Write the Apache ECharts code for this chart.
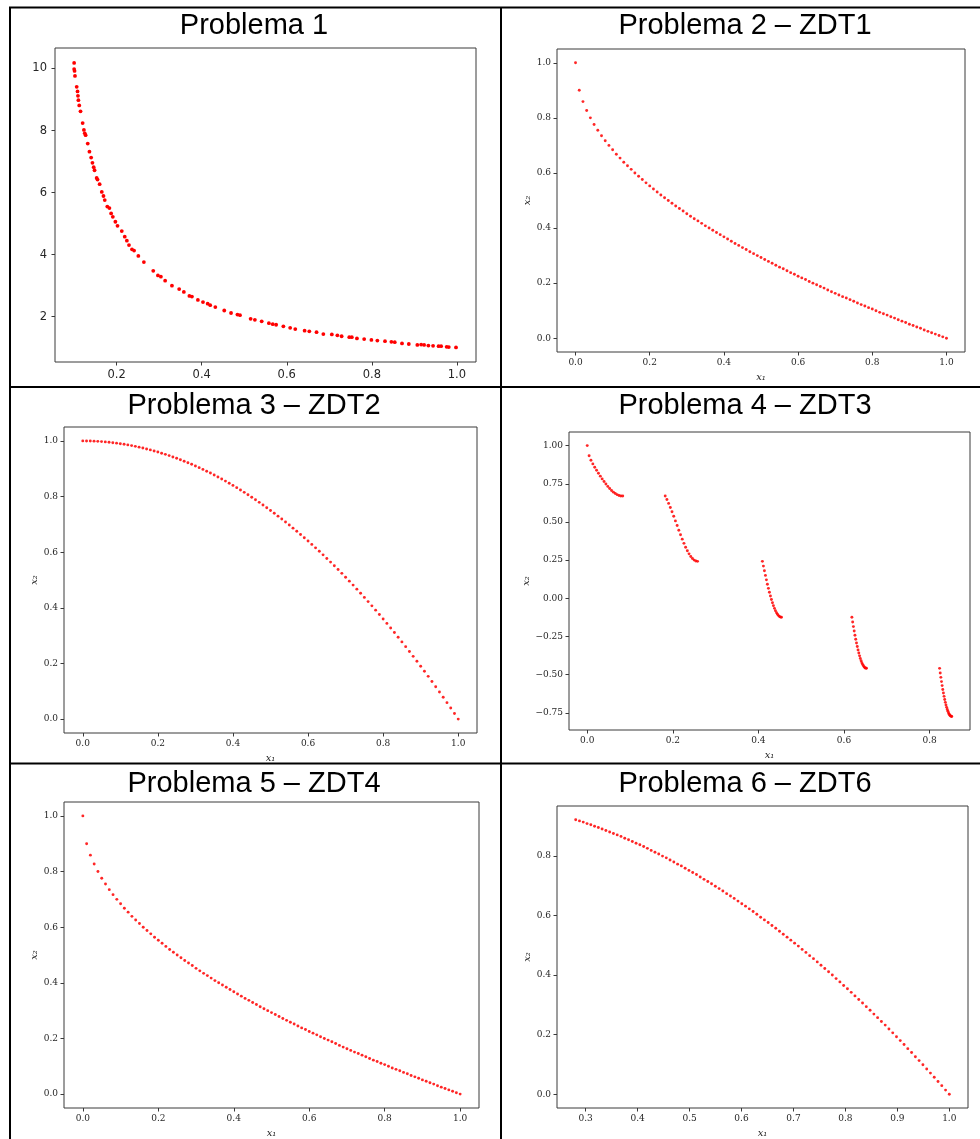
<!DOCTYPE html>
<html>
<head>
<meta charset="utf-8">
<title>Frentes de Pareto</title>
<script src="https://cdn.jsdelivr.net/npm/echarts@6/dist/echarts.min.js"></script>
<style>
  html, body { margin: 0; padding: 0; background: #fff; }
  #chart { width: 980px; height: 1139px; }
</style>
</head>
<body>
<div id="chart"></div>
<script>
// ---------- Panel titles ----------
const panelTitles = [
  'Problema 1', 'Problema 2 – ZDT1',
  'Problema 3 – ZDT2', 'Problema 4 – ZDT3',
  'Problema 5 – ZDT4', 'Problema 6 – ZDT6'
];

// ---------- Problema 1 ----------
const p1X = [0.100,0.100,0.101,0.102,0.106,0.108,0.109,0.110,0.112,0.115,
  0.120,0.123,0.125,0.127,0.132,0.136,0.140,0.143,0.146,0.148,
  0.153,0.155,0.160,0.165,0.169,0.172,0.178,0.183,0.187,0.191,
  0.197,0.202,0.212,0.219,0.224,0.229,0.236,0.241,0.251,0.264,
  0.286,0.297,0.304,0.314,0.330,0.347,0.358,0.371,0.377,0.391,
  0.403,0.414,0.420,0.432,0.453,0.469,0.484,0.490,0.515,0.525,
  0.541,0.558,0.567,0.575,0.592,0.608,0.620,0.642,0.653,0.670,
  0.686,0.706,0.719,0.729,0.747,0.753,0.765,0.782,0.799,0.813,
  0.831,0.846,0.854,0.871,0.887,0.907,0.916,0.923,0.933,0.944,
  0.957,0.963,0.976,0.981,0.998];
const p1Y = [10.18,9.98,9.92,9.76,9.41,9.26,9.12,8.98,8.81,8.62,
  8.24,8.02,7.91,7.85,7.58,7.32,7.13,6.96,6.82,6.72,
  6.47,6.42,6.27,6.02,5.89,5.76,5.55,5.50,5.33,5.22,
  5.06,4.93,4.76,4.58,4.45,4.31,4.17,4.13,3.96,3.76,
  3.48,3.33,3.29,3.16,3.00,2.89,2.80,2.67,2.65,2.54,
  2.47,2.42,2.37,2.31,2.20,2.12,2.07,2.05,1.93,1.90,
  1.85,1.79,1.76,1.74,1.69,1.64,1.60,1.55,1.53,1.50,
  1.44,1.43,1.40,1.37,1.34,1.34,1.30,1.28,1.25,1.23,
  1.21,1.19,1.18,1.14,1.12,1.09,1.10,1.09,1.07,1.06,
  1.05,1.05,1.03,1.02,1.01];

// ---------- ZDT1 / ZDT2 / ZDT4 share the same f1 sampling ----------
const zdtX = [0.00,0.01,0.02,0.03,0.04,0.05,0.06,0.07,0.08,0.09,
  0.10,0.11,0.12,0.13,0.14,0.15,0.16,0.17,0.18,0.19,
  0.20,0.21,0.22,0.23,0.24,0.25,0.26,0.27,0.28,0.29,
  0.30,0.31,0.32,0.33,0.34,0.35,0.36,0.37,0.38,0.39,
  0.40,0.41,0.42,0.43,0.44,0.45,0.46,0.47,0.48,0.49,
  0.50,0.51,0.52,0.53,0.54,0.55,0.56,0.57,0.58,0.59,
  0.60,0.61,0.62,0.63,0.64,0.65,0.66,0.67,0.68,0.69,
  0.70,0.71,0.72,0.73,0.74,0.75,0.76,0.77,0.78,0.79,
  0.80,0.81,0.82,0.83,0.84,0.85,0.86,0.87,0.88,0.89,
  0.90,0.91,0.92,0.93,0.94,0.95,0.96,0.97,0.98,0.99,1.00];

const zdt1Y = [1.000,0.900,0.859,0.827,0.800,0.776,0.755,0.735,0.717,0.700,
  0.684,0.668,0.654,0.639,0.626,0.613,0.600,0.588,0.576,0.564,
  0.553,0.542,0.531,0.520,0.510,0.500,0.490,0.480,0.471,0.462,
  0.452,0.443,0.434,0.426,0.417,0.408,0.400,0.392,0.384,0.376,
  0.368,0.360,0.352,0.344,0.337,0.329,0.322,0.314,0.307,0.300,
  0.293,0.286,0.279,0.272,0.265,0.258,0.252,0.245,0.238,0.232,
  0.225,0.219,0.213,0.206,0.200,0.194,0.188,0.182,0.175,0.169,
  0.163,0.157,0.151,0.146,0.140,0.134,0.128,0.122,0.117,0.111,
  0.106,0.100,0.094,0.089,0.084,0.078,0.073,0.067,0.062,0.057,
  0.051,0.046,0.041,0.036,0.030,0.025,0.020,0.015,0.010,0.005,0.000];

const zdt2Y = [1.0000,0.9999,0.9996,0.9991,0.9984,0.9975,0.9964,0.9951,0.9936,0.9919,
  0.9900,0.9879,0.9856,0.9831,0.9804,0.9775,0.9744,0.9711,0.9676,0.9639,
  0.9600,0.9559,0.9516,0.9471,0.9424,0.9375,0.9324,0.9271,0.9216,0.9159,
  0.9100,0.9039,0.8976,0.8911,0.8844,0.8775,0.8704,0.8631,0.8556,0.8479,
  0.8400,0.8319,0.8236,0.8151,0.8064,0.7975,0.7884,0.7791,0.7696,0.7599,
  0.7500,0.7399,0.7296,0.7191,0.7084,0.6975,0.6864,0.6751,0.6636,0.6519,
  0.6400,0.6279,0.6156,0.6031,0.5904,0.5775,0.5644,0.5511,0.5376,0.5239,
  0.5100,0.4959,0.4816,0.4671,0.4524,0.4375,0.4224,0.4071,0.3916,0.3759,
  0.3600,0.3439,0.3276,0.3111,0.2944,0.2775,0.2604,0.2431,0.2256,0.2079,
  0.1900,0.1719,0.1536,0.1351,0.1164,0.0975,0.0784,0.0591,0.0396,0.0199,0.0000];

// ZDT4 reaches the same front as ZDT1
const zdt4Y = zdt1Y;

// ---------- ZDT3 (five disconnected segments) ----------
const zdt3X = [
  0.0000,0.0044,0.0087,0.0131,0.0175,0.0218,0.0262,0.0306,0.0349,0.0393,
  0.0437,0.0481,0.0524,0.0568,0.0612,0.0655,0.0699,0.0743,0.0786,0.0830,
  0.1822,0.1862,0.1902,0.1942,0.1981,0.2021,0.2061,0.2101,0.2140,0.2180,
  0.2220,0.2260,0.2299,0.2339,0.2379,0.2419,0.2458,0.2498,0.2538,0.2578,
  0.4093,0.4117,0.4140,0.4164,0.4187,0.4210,0.4234,0.4257,0.4281,0.4304,
  0.4328,0.4351,0.4375,0.4398,0.4422,0.4445,0.4468,0.4492,0.4515,0.4539,
  0.6184,0.6202,0.6220,0.6238,0.6256,0.6274,0.6292,0.6310,0.6328,0.6346,
  0.6364,0.6381,0.6399,0.6417,0.6435,0.6453,0.6471,0.6489,0.6507,0.6525,
  0.8233,0.8248,0.8263,0.8278,0.8293,0.8308,0.8323,0.8338,0.8353,0.8368,
  0.8383,0.8398,0.8413,0.8428,0.8443,0.8458,0.8473,0.8488,0.8503,0.8518];
const zdt3Y = [
  1.0000,0.9333,0.9042,0.8803,0.8587,0.8384,0.8189,0.8001,0.7819,0.7646,
  0.7482,0.7328,0.7188,0.7062,0.6953,0.6861,0.6789,0.6736,0.6704,0.6696,
  0.6696,0.6467,0.6217,0.5948,0.5665,0.5371,0.5069,0.4764,0.4460,0.4162,
  0.3874,0.3601,0.3347,0.3117,0.2914,0.2742,0.2605,0.2504,0.2442,0.2421,
  0.2422,0.2110,0.1803,0.1502,0.1209,0.0927,0.0655,0.0396,0.0152,-0.0076,
  -0.0287,-0.0480,-0.0654,-0.0807,-0.0937,-0.1044,-0.1130,-0.1193,-0.1230,-0.1242,
  -0.1242,-0.1550,-0.1850,-0.2138,-0.2412,-0.2676,-0.2924,-0.3158,-0.3376,-0.3580,
  -0.3765,-0.3933,-0.4082,-0.4213,-0.4325,-0.4418,-0.4490,-0.4541,-0.4572,-0.4582,
  -0.4585,-0.4884,-0.5173,-0.5450,-0.5714,-0.5964,-0.6198,-0.6418,-0.6620,-0.6811,
  -0.6983,-0.7138,-0.7276,-0.7397,-0.7499,-0.7583,-0.7649,-0.7696,-0.7724,-0.7734];

// ---------- ZDT6 ----------
const zdt6X = [
  0.2808,0.2881,0.2953,0.3026,0.3099,0.3171,0.3244,0.3316,0.3389,0.3462,
  0.3534,0.3607,0.3680,0.3752,0.3825,0.3898,0.3970,0.4043,0.4116,0.4188,
  0.4261,0.4334,0.4406,0.4479,0.4552,0.4624,0.4697,0.4770,0.4842,0.4915,
  0.4988,0.5060,0.5133,0.5205,0.5278,0.5351,0.5423,0.5496,0.5569,0.5641,
  0.5714,0.5787,0.5859,0.5932,0.6005,0.6077,0.6150,0.6223,0.6295,0.6368,
  0.6441,0.6513,0.6586,0.6659,0.6731,0.6804,0.6877,0.6949,0.7022,0.7094,
  0.7167,0.7240,0.7312,0.7385,0.7458,0.7530,0.7603,0.7676,0.7748,0.7821,
  0.7894,0.7966,0.8039,0.8112,0.8184,0.8257,0.8330,0.8402,0.8475,0.8548,
  0.8620,0.8693,0.8766,0.8838,0.8911,0.8983,0.9056,0.9129,0.9201,0.9274,
  0.9347,0.9419,0.9492,0.9565,0.9637,0.9710,0.9783,0.9855,0.9928,1.0000];
const zdt6Y = [
  0.921,0.917,0.913,0.908,0.904,0.899,0.895,0.890,0.885,0.880,
  0.875,0.870,0.865,0.859,0.854,0.848,0.842,0.837,0.831,0.825,
  0.818,0.812,0.806,0.799,0.793,0.786,0.779,0.772,0.766,0.758,
  0.751,0.744,0.737,0.729,0.721,0.714,0.706,0.698,0.690,0.682,
  0.673,0.665,0.657,0.648,0.639,0.631,0.622,0.613,0.604,0.594,
  0.585,0.576,0.566,0.557,0.547,0.537,0.527,0.517,0.507,0.497,
  0.486,0.476,0.465,0.455,0.444,0.433,0.422,0.411,0.400,0.388,
  0.377,0.365,0.354,0.342,0.330,0.318,0.306,0.294,0.282,0.269,
  0.257,0.244,0.232,0.219,0.206,0.193,0.180,0.167,0.153,0.140,
  0.126,0.113,0.099,0.085,0.071,0.057,0.043,0.029,0.014,0.000];

// ---------- Tick labels ----------
const p1XTicks = [0.2, 0.4, 0.6, 0.8, 1.0];
const p1YTicks = [2, 4, 6, 8, 10];
const unitTicks = [0.0, 0.2, 0.4, 0.6, 0.8, 1.0];
const zdt3XTicks = [0.0, 0.2, 0.4, 0.6, 0.8];
const zdt3YTicks = [-0.75, -0.50, -0.25, 0.00, 0.25, 0.50, 0.75, 1.00];
const zdt6XTicks = [0.3, 0.4, 0.5, 0.6, 0.7, 0.8, 0.9, 1.0];
const zdt6YTicks = [0.0, 0.2, 0.4, 0.6, 0.8];

// ---------- Layout ----------
const SANS = 'DejaVu Sans';
const SERIF = 'DejaVu Serif';

const panels = [
  { grid: [55, 48, 421, 314],  x: p1X,   y: p1Y,   xr: [0.055, 1.045], yr: [0.54, 10.66],
    xt: p1XTicks, yt: p1YTicks, xd: 1, yd: 0, font: SANS, fs: 11.5, names: false, size: 3.8, yGap: 0 },
  { grid: [557, 49, 408, 303], x: zdtX,  y: zdt1Y, xr: [-0.05, 1.05], yr: [-0.05, 1.05],
    xt: unitTicks, yt: unitTicks, xd: 1, yd: 1, font: SERIF, fs: 9, names: true, size: 2.9, yGap: 25 },
  { grid: [64, 427, 413, 306], x: zdtX,  y: zdt2Y, xr: [-0.05, 1.05], yr: [-0.05, 1.05],
    xt: unitTicks, yt: unitTicks, xd: 1, yd: 1, font: SERIF, fs: 9, names: true, size: 2.9, yGap: 25 },
  { grid: [569, 432, 401, 298], x: zdt3X, y: zdt3Y, xr: [-0.0426, 0.8944], yr: [-0.862, 1.089],
    xt: zdt3XTicks, yt: zdt3YTicks, xd: 1, yd: 2, font: SERIF, fs: 9, names: true, size: 2.9, yGap: 38 },
  { grid: [64, 802, 415, 310], x: zdtX,  y: zdt4Y, xr: [-0.05, 1.05], yr: [-0.05, 1.05],
    xt: unitTicks, yt: unitTicks, xd: 1, yd: 1, font: SERIF, fs: 9, names: true, size: 2.9, yGap: 25 },
  { grid: [557, 806, 411, 307], x: zdt6X, y: zdt6Y, xr: [0.2448, 1.036], yr: [-0.046, 0.967],
    xt: zdt6XTicks, yt: zdt6YTicks, xd: 1, yd: 1, font: SERIF, fs: 9, names: true, size: 2.9, yGap: 25 }
];

// Title centres and tops for the 2x3 table
const titlePos = [[254, 11], [745, 11], [254, 391], [745, 391], [254, 769], [745, 769]];

function fmt(d) {
  return v => v.toFixed(d).replace('-', '\u2212');
}

const grids = [], xAxes = [], yAxes = [], series = [], titles = [];
panels.forEach((p, i) => {
  grids.push({
    left: p.grid[0], top: p.grid[1], width: p.grid[2], height: p.grid[3],
    show: true, borderColor: '#3a3a3a', borderWidth: 1, backgroundColor: '#fff',
    containLabel: false
  });
  const labelStyle = { fontFamily: p.font, fontSize: p.fs, color: '#262626' };
  const nameStyle = { fontFamily: SERIF, fontSize: 10, fontStyle: 'italic', color: '#262626' };
  xAxes.push({
    type: 'value', gridIndex: i, min: p.xr[0], max: p.xr[1],
    axisLine: { show: false, onZero: false },
    splitLine: { show: false },
    axisTick: { show: true, length: 3.5, customValues: p.xt, lineStyle: { color: '#3a3a3a' } },
    axisLabel: Object.assign({ customValues: p.xt, formatter: fmt(p.xd), margin: p.names ? 6 : 7 }, labelStyle),
    name: p.names ? 'x\u2081' : '', nameLocation: 'middle', nameGap: 20, nameTextStyle: nameStyle
  });
  yAxes.push({
    type: 'value', gridIndex: i, min: p.yr[0], max: p.yr[1],
    axisLine: { show: false, onZero: false },
    splitLine: { show: false },
    axisTick: { show: true, length: 3.5, customValues: p.yt, lineStyle: { color: '#3a3a3a' } },
    axisLabel: Object.assign({ customValues: p.yt, formatter: fmt(p.yd), margin: p.names ? 6 : 8 }, labelStyle),
    name: p.names ? 'x\u2082' : '', nameLocation: 'middle', nameGap: p.yGap,
    nameRotate: 90, nameTextStyle: nameStyle
  });
  series.push({
    type: 'scatter', xAxisIndex: i, yAxisIndex: i,
    symbol: 'circle', symbolSize: p.size,
    itemStyle: { color: '#ff0000', opacity: i === 0 ? 1 : 0.85 },
    data: p.x.map((v, k) => [v, p.y[k]]),
    silent: true, animation: false
  });
  titles.push({
    text: panelTitles[i], left: titlePos[i][0], top: titlePos[i][1],
    textAlign: 'center', padding: 0,
    textStyle: { fontFamily: 'Liberation Sans', fontSize: 29, fontWeight: 'normal', color: '#000', lineHeight: 29 }
  });
});

// Table rules separating the six cells
const rule = (x1, y1, x2, y2, w) => ({
  type: 'line', silent: true, z: 100,
  shape: { x1, y1, x2, y2 },
  style: { stroke: '#000', lineWidth: w }
});
const graphics = [
  rule(9, 7.5, 980, 7.5, 2),
  rule(10, 7, 10, 1139, 2),
  rule(501, 7, 501, 1139, 2),
  rule(10, 387, 980, 387, 2),
  rule(10, 763.5, 980, 763.5, 2)
];

const chart = echarts.init(document.getElementById('chart'), null, { renderer: 'canvas' });
chart.setOption({
  backgroundColor: '#fff',
  animation: false,
  title: titles,
  grid: grids,
  xAxis: xAxes,
  yAxis: yAxes,
  series: series,
  graphic: graphics
});
</script>
</body>
</html>
